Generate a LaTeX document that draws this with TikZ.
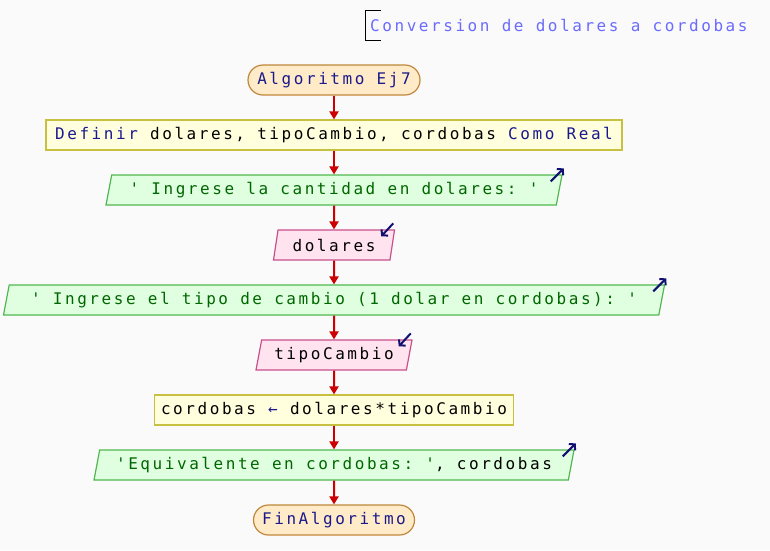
\documentclass[tikz,border=0pt]{standalone}
\usepackage{fontspec}
\setmonofont{DejaVu Sans Mono}[LetterSpace=16]
\usetikzlibrary{shapes.geometric,arrows.meta}
\definecolor{fondo}{HTML}{FAFAFA}
\definecolor{termfill}{HTML}{FFEBC8}
\definecolor{termline}{HTML}{C0873C}
\definecolor{procfill}{HTML}{FFFFDD}
\definecolor{procline}{HTML}{C8C040}
\definecolor{salfill}{HTML}{E0FFE0}
\definecolor{salline}{HTML}{50B850}
\definecolor{entfill}{HTML}{FFE4F0}
\definecolor{entline}{HTML}{C8508C}
\definecolor{flecha}{HTML}{CC0000}
\definecolor{clave}{HTML}{1A1A8C}
\definecolor{verde}{HTML}{006600}
\definecolor{titulo}{HTML}{6B6BFF}
\definecolor{icono}{HTML}{101070}
\begin{document}
\begin{tikzpicture}[x=1pt,y=-1pt,font=\ttfamily\fontsize{16}{19}\selectfont]
	    \tikzset{>={Triangle[width=9pt,length=8pt]}}
	    \tikzset{terminal/.style={rectangle,rounded corners=15pt,minimum height=30pt,fill=termfill,draw=termline,line width=1.2pt,text=clave,inner sep=0pt}}
	    \tikzset{proceso/.style={rectangle,minimum height=30pt,fill=procfill,draw=procline,line width=1.2pt,inner sep=0pt}}
	    \tikzset{salida/.style={trapezium,trapezium left angle=70,trapezium right angle=110,trapezium stretches body,minimum height=30pt,fill=salfill,draw=salline,line width=1.2pt,text=verde,inner sep=0pt}}
	    \tikzset{entrada/.style={trapezium,trapezium left angle=70,trapezium right angle=110,trapezium stretches body,minimum height=30pt,fill=entfill,draw=entline,line width=1.2pt,inner sep=0pt}}
	    \tikzset{flujo/.style={->,draw=flecha,fill=flecha,line width=2pt}}
	    \tikzset{icono/.style={-{Straight Barb[length=4pt,width=9pt,line width=2pt]},draw=icono,line width=2pt}}
	    \fill[fondo] (0,0) rectangle (770,550);
	    \useasboundingbox (0,0) rectangle (770,550);
	    % titulo
	    \draw[line width=1pt] (381,10) -- (365,10) -- (365,40) -- (381,40);
	    \node[anchor=west,text=titulo,inner sep=0pt] (titulo) at (370,25) {Conversion de dolares a cordobas};
	    % diagrama
	    \node[terminal,minimum width=172pt] (inicio) at (334,80) {Algoritmo Ej7};
	    \node[proceso,minimum width=576pt] (definir) at (334,135) {\textcolor{clave}{Definir} dolares, tipoCambio, cordobas \textcolor{clave}{Como Real}};
	    \node[salida,minimum width=456pt] (msg1) at (334,190) {' Ingrese la cantidad en dolares: '};
	    \node[entrada,minimum width=121pt] (leer1) at (334,245) {dolares};
	    \node[salida,minimum width=661pt] (msg2) at (334,300) {' Ingrese el tipo de cambio (1 dolar en cordobas): '};
	    \node[entrada,minimum width=156pt] (leer2) at (334,355) {tipoCambio};
	    \node[proceso,minimum width=359pt] (asignar) at (334,410) {cordobas \textcolor{clave}{←} dolares*tipoCambio};
	    \node[salida,minimum width=480pt] (msg3) at (334,465) {'Equivalente en cordobas: '\textcolor{black}{, cordobas}};
	    \node[terminal,minimum width=161pt] (fin) at (334,520) {FinAlgoritmo};
	    % flechas
	    \draw[flujo] (inicio) -- (definir);
	    \draw[flujo] (definir) -- (msg1);
	    \draw[flujo] (msg1) -- (leer1);
	    \draw[flujo] (leer1) -- (msg2);
	    \draw[flujo] (msg2) -- (leer2);
	    \draw[flujo] (leer2) -- (asignar);
	    \draw[flujo] (asignar) -- (msg3);
	    \draw[flujo] (msg3) -- (fin);
	    % iconos
	    \draw[icono] ([shift={(-12,7)}]msg1.top right corner) -- ([shift={(1,-6)}]msg1.top right corner);
	    \draw[icono] ([shift={(-12,7)}]msg2.top right corner) -- ([shift={(1,-6)}]msg2.top right corner);
	    \draw[icono] ([shift={(-12,7)}]msg3.top right corner) -- ([shift={(1,-6)}]msg3.top right corner);
	    \draw[icono] ([shift={(-2,-6)}]leer1.top right corner) -- ([shift={(-14,7)}]leer1.top right corner);
	    \draw[icono] ([shift={(-2,-6)}]leer2.top right corner) -- ([shift={(-14,7)}]leer2.top right corner);
	\end{tikzpicture}
\end{document}
